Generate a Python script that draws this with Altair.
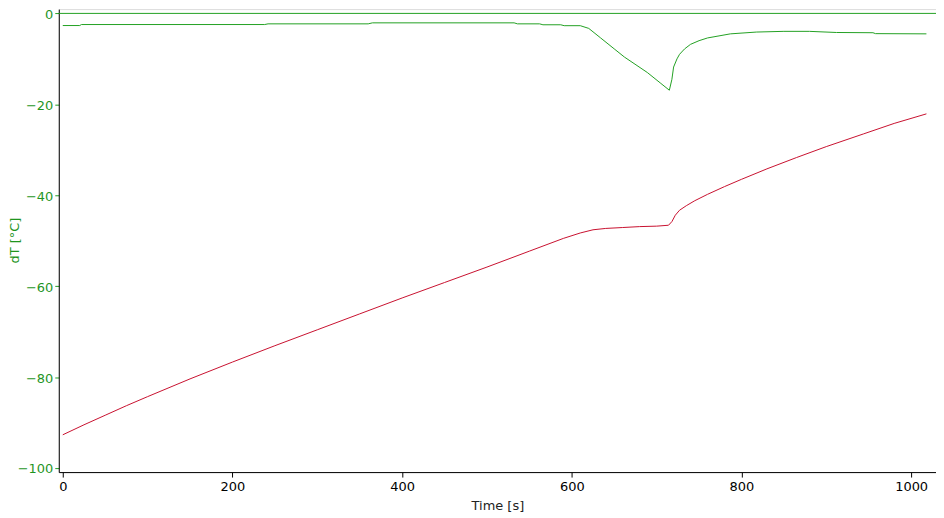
import altair as alt
import pandas as pd

# Red series (time [s], dT [°C])
red_t = [0, 25, 50, 75, 100, 150, 200, 250, 300, 350, 400, 450, 500, 550, 590, 610,
         625, 640, 660, 680, 700, 714, 718, 722, 727, 735, 745, 760, 780, 800, 830,
         865, 900, 944, 980, 1018]
red_v = [-92.7, -90.5, -88.4, -86.3, -84.3, -80.4, -76.7, -73.1, -69.6, -66.1, -62.6,
         -59.2, -55.8, -52.3, -49.5, -48.3, -47.6, -47.3, -47.1, -46.9, -46.8, -46.6,
         -45.8, -44.4, -43.3, -42.3, -41.2, -39.8, -38.1, -36.5, -34.2, -31.7, -29.3,
         -26.5, -24.2, -22.1]

# Green series
green_t = [0, 20, 22, 238, 242, 360, 365, 532, 536, 562, 566, 587, 591, 610, 620, 634,
           650, 662, 689, 705, 715, 718, 720, 724, 727, 733, 740, 750, 760, 787, 818,
           850, 880, 912, 955, 958, 1018]
green_v = [-2.67, -2.67, -2.45, -2.45, -2.3, -2.3, -2.08, -2.08, -2.3, -2.3, -2.5, -2.5,
           -2.7, -2.7, -3.3, -5.4, -7.8, -9.6, -13.0, -15.4, -16.9, -14.5, -11.8, -10.0,
           -9.0, -7.8, -6.8, -6.0, -5.4, -4.5, -4.1, -3.95, -3.95, -4.2, -4.25, -4.45,
           -4.5]

# Green zero line
zero_line = [0]

x_ticks = [0, 200, 400, 600, 800, 1000]
y_ticks = [0, -20, -40, -60, -80, -100]

GREEN = "#22a022"
GREEN_TXT = "#1f951f"
RED = "#c8102e"
FONT = "DejaVu Sans"

red_df = pd.DataFrame({"t": red_t, "v": red_v})
green_df = pd.DataFrame({"t": green_t, "v": green_v})
zero_df = pd.DataFrame({"v": zero_line})

xscale = alt.Scale(domain=[-4.7, 1029.3], nice=False, zero=False)
yscale = alt.Scale(domain=[-100.9, 0.95], nice=False, zero=False)

xaxis = alt.Axis(title="Time [s]", values=x_ticks, format="d", grid=False,
                 domainColor="black", tickColor="black", labelColor="black",
                 titleColor="#222222", labelFont=FONT, titleFont=FONT,
                 labelFontSize=13, titleFontSize=13, titleFontWeight="normal",
                 tickSize=5, labelPadding=3, titlePadding=7)
yaxis = alt.Axis(title="dT [°C]", values=y_ticks, format="d", grid=False,
                 domainColor="black", tickColor=GREEN, labelColor=GREEN_TXT,
                 titleColor=GREEN_TXT, labelFont=FONT, titleFont=FONT,
                 labelFontSize=13, titleFontSize=13, titleFontWeight="normal",
                 tickSize=4, labelPadding=2, labelOffset=1, titleX=-44, titleY=232,
                 titleAngle=270, titleAlign="center", titleBaseline="middle")

zero = alt.Chart(zero_df).mark_rule(color=GREEN, strokeWidth=1).encode(
    y=alt.Y("v:Q", scale=yscale, axis=yaxis)
)

green = alt.Chart(green_df).mark_line(color=GREEN, strokeWidth=1).encode(
    x=alt.X("t:Q", scale=xscale, axis=xaxis),
    y=alt.Y("v:Q", scale=yscale, axis=yaxis),
)

red = alt.Chart(red_df).mark_line(color=RED, strokeWidth=1).encode(
    x=alt.X("t:Q", scale=xscale, axis=xaxis),
    y=alt.Y("v:Q", scale=yscale, axis=yaxis),
)

chart = alt.layer(zero, green, red).properties(
    width=881, height=465,
    autosize=alt.AutoSizeParams(type="none"),
    padding={"left": 51, "top": 0, "right": 0, "bottom": 40},
).configure_view(stroke="black", strokeWidth=1).configure(background="white")

chart.save("out.html", embed_options={"renderer": "svg", "actions": False})
